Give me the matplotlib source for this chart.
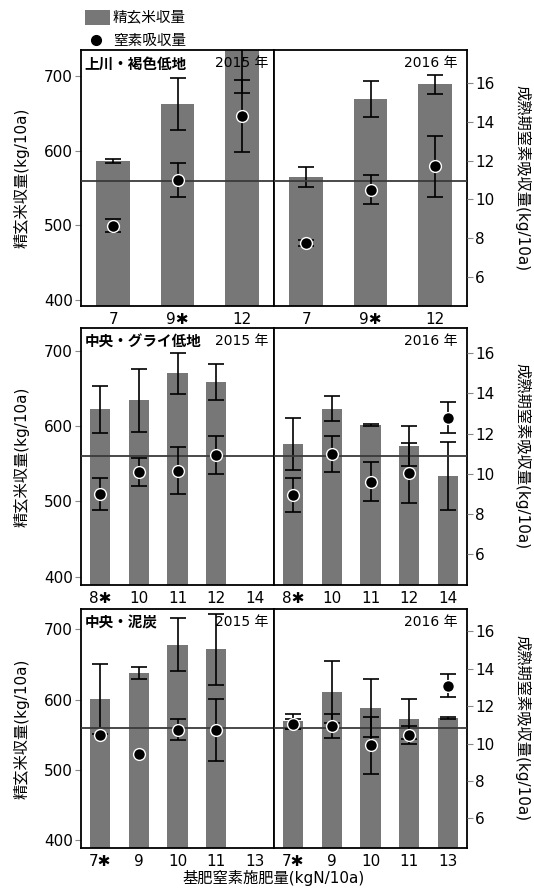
import numpy as np
import matplotlib
matplotlib.use("Agg")
import matplotlib.pyplot as plt
from matplotlib.patches import Rectangle
from matplotlib.lines import Line2D

plt.rcParams['font.family'] = ['DejaVu Sans', 'Noto Sans CJK JP']

nan = np.nan

# ---- data ----
titles = ["上川・褐色低地", "中央・グライ低地", "中央・泥炭"]
years = ["2015 年", "2016 年"]

rate_kamikawa = ["7", "9✱", "12"]
yield_kamikawa_2015 = [586, 663, 739]
yield_err_kamikawa_2015 = [3, 35, 62]
n_kamikawa_2015 = [8.65, 11.0, 14.3]
n_err_kamikawa_2015 = [0.35, 0.87, 1.85]
yield_kamikawa_2016 = [565, 669, 689]
yield_err_kamikawa_2016 = [13.5, 24, 13]
n_kamikawa_2016 = [7.75, 10.5, 11.7]
n_err_kamikawa_2016 = [0.15, 0.74, 1.56]

rate_grey = ["8✱", "10", "11", "12", "14"]
yield_grey_2015 = [622, 634, 670, 658, nan]
yield_err_grey_2015 = [31, 42, 27, 24, nan]
n_grey_2015 = [9.0, 10.1, 10.15, 10.95, nan]
n_err_grey_2015 = [0.8, 0.7, 1.17, 0.95, nan]
yield_grey_2016 = [576, 623, 601, 574, 534]
yield_err_grey_2016 = [34, 17, 1.5, 26.5, 45]
n_grey_2016 = [8.95, 11.0, 9.6, 10.05, 12.8]
n_err_grey_2016 = [0.85, 0.9, 0.98, 1.5, 0.77]

rate_peat = ["7✱", "9", "10", "11", "13"]
yield_peat_2015 = [601, 638, 678, 671.5, nan]
yield_err_peat_2015 = [50, 8.5, 37.5, 51, nan]
n_peat_2015 = [10.47, 9.45, 10.75, 10.75, nan]
n_err_peat_2015 = [nan, nan, 0.55, 1.66, nan]
yield_peat_2016 = [569, 611, 588, 573, 574]
yield_err_peat_2016 = [11, 44, 41, 28.5, 1.5]
n_peat_2016 = [11.05, 10.95, 9.9, 10.45, 13.1]
n_err_peat_2016 = [0.25, 0.63, 1.53, 0.5, 0.63]

reference_yield = 560
yield_ticks = [400, 500, 600, 700]
n_ticks = [6, 8, 10, 12, 14, 16]

rows = [
    (rate_kamikawa,
     (yield_kamikawa_2015, yield_err_kamikawa_2015, n_kamikawa_2015, n_err_kamikawa_2015),
     (yield_kamikawa_2016, yield_err_kamikawa_2016, n_kamikawa_2016, n_err_kamikawa_2016)),
    (rate_grey,
     (yield_grey_2015, yield_err_grey_2015, n_grey_2015, n_err_grey_2015),
     (yield_grey_2016, yield_err_grey_2016, n_grey_2016, n_err_grey_2016)),
    (rate_peat,
     (yield_peat_2015, yield_err_peat_2015, n_peat_2015, n_err_peat_2015),
     (yield_peat_2016, yield_err_peat_2016, n_peat_2016, n_err_peat_2016)),
]

# ---- layout (pixels) ----
W, H = 534, 888
fig = plt.figure(figsize=(W / 100, H / 100), dpi=100)
xl, xm, xr = 81, 274, 467
row_px = [(50, 306), (328, 585), (609, 848)]
ylims = [(392, 735), (389, 730), (389, 729)]
nlims = [(4.5, 17.7), (4.46, 17.26), (4.41, 17.2)]

BAR = '#777777'
TICKC = '#888888'

def fx(px):
    return px / W

def fy(py):
    return 1 - py / H

for r, (cats, d15, d16) in enumerate(rows):
    top, bot = row_px[r]
    for j, (data, x0, x1) in enumerate([(d15, xl, xm), (d16, xm, xr)]):
        ax = fig.add_axes([fx(x0), fy(bot), fx(x1 - x0), fy(top) - fy(bot)])
        yv, ye, nv, ne = [np.array(a, dtype=float) for a in data]
        x = np.arange(len(cats))
        bm = np.isfinite(yv)
        ax.bar(x[bm], yv[bm], width=0.52, color=BAR, zorder=1)
        m = np.isfinite(ye) & bm
        ax.errorbar(x[m], yv[m], yerr=ye[m], fmt='none', ecolor='black',
                    elinewidth=1.2, capsize=5.5, capthick=1.2, zorder=2)
        ax.axhline(reference_yield, color='#3a3a3a', lw=1.3, zorder=3)
        ax.set_xlim(-0.5, len(cats) - 0.5)
        ax.set_ylim(*ylims[r])
        ax.set_xticks(x)
        ax.set_xticklabels(cats, fontsize=11)
        ax.tick_params(axis='x', length=0, pad=4)
        for s in ax.spines.values():
            s.set_linewidth(1.3)
            s.set_color('black')
        axn = ax.twinx()
        axn.set_ylim(*nlims[r])
        for s in axn.spines.values():
            s.set_visible(False)
        mn = np.isfinite(ne) & np.isfinite(nv)
        axn.errorbar(x[mn], nv[mn], yerr=ne[mn], fmt='none', ecolor='black',
                     elinewidth=1.2, capsize=5.5, capthick=1.2, zorder=2)
        pm = np.isfinite(nv)
        axn.plot(x[pm], nv[pm], 'o', ms=8.5, mfc='black', mec='white',
                 mew=1.0, zorder=4, linestyle='none')
        if j == 0:
            ax.set_yticks(yield_ticks)
            ax.tick_params(axis='y', direction='out', length=4, color=TICKC,
                           labelsize=11, pad=2)
            axn.set_yticks([])
            ax.text(0.02, 0.975, titles[r], transform=ax.transAxes,
                    ha='left', va='top', fontsize=10.5, fontweight='bold')
            ax.text(0.97, 0.975, years[0], transform=ax.transAxes,
                    ha='right', va='top', fontsize=10)
        else:
            ax.set_yticks([])
            axn.set_yticks(n_ticks)
            axn.tick_params(axis='y', direction='out', length=4, color=TICKC,
                            labelsize=11, pad=2)
            ax.text(0.95, 0.975, years[1], transform=ax.transAxes,
                    ha='right', va='top', fontsize=10)
    cy = fy((top + bot) / 2)
    fig.text(fx(22), cy, "精玄米収量(kg/10a)", rotation=90, ha='center',
             va='center', fontsize=11)
    fig.text(fx(522), cy, "成熟期窒素吸収量(kg/10a)", rotation=-90,
             ha='center', va='center', fontsize=11)

# legend
fig.add_artist(Rectangle((fx(85), fy(25)), fx(25), fy(10) - fy(25),
                         transform=fig.transFigure, facecolor=BAR,
                         edgecolor='none'))
fig.text(fx(113), fy(17), "精玄米収量", ha='left', va='center', fontsize=10.5)
fig.add_artist(Line2D([fx(96)], [fy(40)], marker='o', ms=7, color='black',
                      transform=fig.transFigure, linestyle='none'))
fig.text(fx(113), fy(40), "窒素吸収量", ha='left', va='center', fontsize=10.5)

fig.text(fx(274), fy(878), "基肥窒素施肥量(kgN/10a)", ha='center',
         va='center', fontsize=11)

fig.savefig("out.png", dpi=100)
